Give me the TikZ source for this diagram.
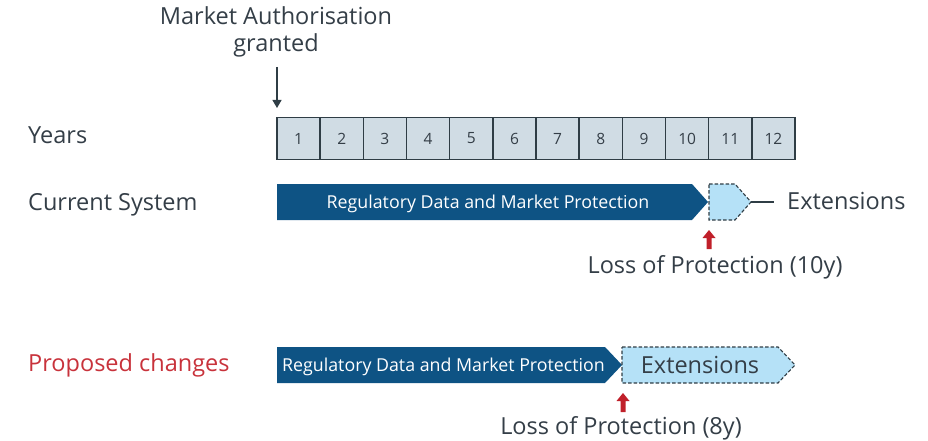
\documentclass[tikz,border=0pt]{standalone}
\usepackage{fontspec}
\setmainfont{Open Sans}
\usetikzlibrary{arrows.meta}
\definecolor{txt}{HTML}{343E47}
\definecolor{darkblue}{HTML}{0E5384}
\definecolor{lightblue}{HTML}{B5E1F7}
\definecolor{cellfill}{HTML}{D0DCE4}
\definecolor{cellline}{HTML}{2F3D45}
\definecolor{redarr}{HTML}{C0202A}
\definecolor{redtxt}{HTML}{C8323B}
\tikzset{
  lbl/.style={inner sep=0pt, text=txt, font=\fontsize{23.5}{27}\selectfont},
  cell/.style={draw=cellline, fill=cellfill, line width=1.4pt, minimum width=43.17pt, minimum height=42pt, inner sep=0pt, text=txt, font=\fontsize{15.5}{18}\selectfont},
  darkarrow/.style={fill=darkblue},
  extarrow/.style={fill=lightblue, draw=cellline, line width=1.1pt, dash pattern=on 3.5pt off 2pt},
  whitetxt/.style={inner sep=0pt, text=white, font=\fontsize{17.8}{21}\selectfont},
  redblock/.style={fill=redarr},
}
\begin{document}
\begin{tikzpicture}[x=1pt,y=-1pt]
\useasboundingbox (0,0) rectangle (928,441);
% top label and arrow
\node[lbl, align=center] (ma) at (276,32) {Market Authorisation\\granted};
\coordinate (maarrow) at (277,67);
\coordinate (maend) at (277,108);
% years cells
\foreach \i in {1,...,12}{
  \node[cell] (c\i) at ({277+43.17*(\i-0.5)},138.5) {\i};
}
\draw[line width=1.2pt, cellline, -{Triangle[length=8pt,width=9pt]}] (maarrow) -- (maend);
% left labels
\node[lbl, anchor=base west] (years) at (28,143) {Years};
\node[lbl, anchor=base west] (cur) at (28,210) {Current System};
\node[lbl, anchor=base west, text=redtxt] (prop) at (28,371) {Proposed changes};
% current system
\path[darkarrow] (277,184) -- (692,184) -- (708,202) -- (692,220) -- (277,220) -- cycle;
\node[whitetxt, anchor=base] (rdmp1) at (488,208.5) {Regulatory Data and Market Protection};
\path[extarrow] (709,184) -- (735,184) -- (751,202) -- (735,220) -- (709,220) -- cycle;
\coordinate (ext1tip) at (751,202);
\node[lbl, anchor=base west] (ext1) at (787,209) {Extensions};
\draw[line width=1.3pt, cellline] (ext1tip) -- ([xshift=-13pt]ext1.west|-ext1tip);
% red arrow 1
\path[redblock] (709,230) -- (715.5,238) -- (711.5,238) -- (711.5,249) -- (706.5,249) -- (706.5,238) -- (702.5,238) -- cycle;
\node[lbl, anchor=base] (loss1) at (715,273) {Loss of Protection (10y)};
% proposed
\path[darkarrow] (277,347) -- (605,347) -- (622,365) -- (605,383) -- (277,383) -- cycle;
\node[whitetxt, anchor=base] (rdmp2) at (443.5,371.5) {Regulatory Data and Market Protection};
\path[extarrow] (622,347) -- (778,347) -- (795,365) -- (778,383) -- (622,383) -- cycle;
\node[lbl, anchor=base] (ext2) at (700,373) {Extensions};
\path[redblock] (623,393) -- (629.5,401) -- (625.5,401) -- (625.5,412) -- (620.5,412) -- (620.5,401) -- (616.5,401) -- cycle;
\node[lbl, anchor=base] (loss2) at (621,434) {Loss of Protection (8y)};
\end{tikzpicture}
\end{document}
